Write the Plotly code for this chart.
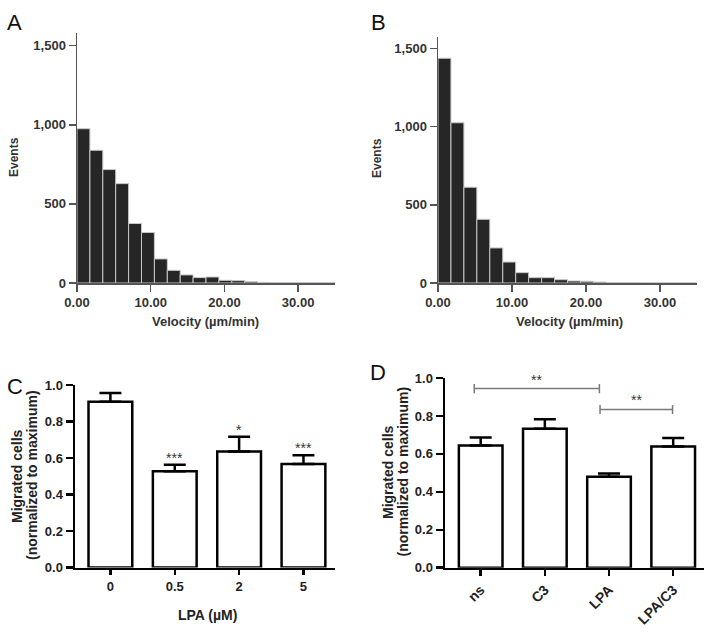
import plotly.graph_objects as go

# ---------------- data ----------------
BIN_WIDTH = 1.75
bin_starts = [i * BIN_WIDTH for i in range(20)]
events_A = [975, 839, 717, 628, 376, 319, 152, 80, 51, 34, 38, 17, 15, 8, 4, 3, 3, 2, 2, 2]
events_B = [1436, 1024, 612, 407, 224, 134, 66, 34, 34, 21, 13, 11, 6, 3, 2, 2, 1, 1, 1, 1]

lpa_labels = ["0", "0.5", "2", "5"]
lpa_mean = [0.908, 0.527, 0.635, 0.567]
lpa_err = [0.048, 0.036, 0.082, 0.048]
lpa_sig = ["", "***", "*", "***"]

treat_labels = ["ns", "C3", "LPA", "LPA/C3"]
treat_mean = [0.644, 0.733, 0.479, 0.639]
treat_err = [0.042, 0.049, 0.017, 0.045]
bracket_x0 = [-0.1, 1.86]
bracket_x1 = [1.85, 2.99]
bracket_y = [0.944, 0.834]
bracket_txt = ["**", "**"]

# ---------------- layout helpers ----------------
W, H = 715, 634
FONT = "Liberation Sans, Arial, Helvetica, sans-serif"


def fx(p):
    return p / W


def fy(p):
    return 1 - p / H


fig = go.Figure()

# Histograms A and B
for events, xa, ya in [(events_A, "x", "y"), (events_B, "x2", "y2")]:
    fig.add_trace(go.Bar(
        x=bin_starts, y=events, width=BIN_WIDTH, offset=0,
        marker=dict(color="#262626", line=dict(color="#c8c8c8", width=1)),
        xaxis=xa, yaxis=ya, showlegend=False, hoverinfo="skip"))

# Panel C bars
xs = list(range(len(lpa_labels)))
fig.add_trace(go.Bar(
    x=xs, y=lpa_mean, width=0.68,
    marker=dict(color="white", line=dict(color="black", width=2.5)),
    error_y=dict(type="data", symmetric=False, array=lpa_err,
                 arrayminus=[0] * len(lpa_err), color="black", thickness=2.5, width=11),
    xaxis="x3", yaxis="y3", showlegend=False, hoverinfo="skip"))

# Panel D bars
xd = list(range(len(treat_labels)))
fig.add_trace(go.Bar(
    x=xd, y=treat_mean, width=0.68,
    marker=dict(color="white", line=dict(color="black", width=2.5)),
    error_y=dict(type="data", symmetric=False, array=treat_err,
                 arrayminus=[0] * len(treat_err), color="black", thickness=2.5, width=11),
    xaxis="x4", yaxis="y4", showlegend=False, hoverinfo="skip"))

# Brackets in D
cap = 0.024
for x0, x1, yb in zip(bracket_x0, bracket_x1, bracket_y):
    fig.add_trace(go.Scatter(
        x=[x0, x0, None, x0, x1, None, x1, x1],
        y=[yb - cap, yb + cap, None, yb, yb, None, yb - cap, yb + cap],
        mode="lines", line=dict(color="#7a7a7a", width=1.5),
        xaxis="x4", yaxis="y4", showlegend=False, hoverinfo="skip"))

hist_axis = dict(showline=True, linecolor="#555", linewidth=1.5, ticks="outside",
                 ticklen=7, tickwidth=1.5, tickcolor="#555", showgrid=False, zeroline=False,
                 automargin=False,
                 tickfont=dict(family=FONT, size=13, color="#333", weight="bold"))
bar_axis = dict(showline=True, linecolor="black", linewidth=2.5, ticks="outside",
                ticklen=7, tickwidth=2.5, tickcolor="black", showgrid=False, zeroline=False,
                automargin=False,
                tickfont=dict(family=FONT, size=13, color="#222", weight="bold"))

fig.update_layout(
    template="none",
    width=W, height=H, margin=dict(l=0, r=0, t=0, b=0, pad=0), autosize=False,
    showlegend=False,
    paper_bgcolor="white", plot_bgcolor="white", barmode="overlay",
    xaxis=dict(hist_axis, domain=[fx(77), fx(335)], range=[0, 35], tickvals=[0, 10, 20, 30],
               tickformat=".2f", anchor="y"),
    yaxis=dict(hist_axis, domain=[fy(283), fy(33)], range=[0, 1580], tickvals=[0, 500, 1000, 1500],
               tickformat=",", anchor="x"),
    xaxis2=dict(hist_axis, domain=[fx(438), fx(697)], range=[0, 35], tickvals=[0, 10, 20, 30],
                tickformat=".2f", anchor="y2"),
    yaxis2=dict(hist_axis, domain=[fy(283), fy(37)], range=[0, 1572], tickvals=[0, 500, 1000, 1500],
                tickformat=",", anchor="x2"),
    xaxis3=dict(bar_axis, domain=[fx(75), fx(335)], range=[-0.55, 3.49], tickvals=xs,
                ticktext=lpa_labels, ticklen=5, anchor="y3"),
    yaxis3=dict(bar_axis, domain=[fy(567.5), fy(385)], range=[0, 1.0], dtick=0.2,
                tickformat=".1f", anchor="x3"),
    xaxis4=dict(bar_axis, domain=[fx(445), fx(704)], range=[-0.556, 3.48], tickvals=xd,
                ticktext=treat_labels, tickangle=-45, ticklen=6, anchor="y4",
                tickfont=dict(family=FONT, size=14, color="#222", weight="bold")),
    yaxis4=dict(bar_axis, domain=[fy(567.7), fy(378)], range=[0, 1.0], dtick=0.2,
                tickformat=".1f", anchor="x4"),
)

ann = []


def text_ann(txt, x, y, size, bold=True, angle=0, color="#222"):
    ann.append(dict(text=txt, x=fx(x), y=fy(y), xref="paper", yref="paper",
                    showarrow=False, textangle=angle, xanchor="center", yanchor="middle",
                    font=dict(family=FONT, size=size, color=color,
                              weight="bold" if bold else "normal")))


# panel letters
text_ann("A", 14, 22, 22, bold=False, color="#111")
text_ann("B", 378, 22, 22, bold=False, color="#111")
text_ann("C", 15, 386, 22, bold=False, color="#111")
text_ann("D", 378, 372, 22, bold=False, color="#111")

# axis titles
text_ann("Events", 14, 157, 12, angle=-90, color="#333")
text_ann("Events", 377, 158, 12, angle=-90, color="#333")
text_ann("Velocity (µm/min)", 205, 322, 13, color="#333")
text_ann("Velocity (µm/min)", 569, 322, 13, color="#333")

text_ann("Migrated cells", 17, 476, 14, angle=-90)
text_ann("(normalized to maximum)", 32, 475, 14, angle=-90)
text_ann("LPA (µM)", 207, 615, 14)

text_ann("Migrated cells", 388, 472, 14, angle=-90)
text_ann("(normalized to maximum)", 402.5, 472, 14, angle=-90)

# significance stars in C
for i, s in enumerate(lpa_sig):
    if s:
        ann.append(dict(text=s, x=i, y=lpa_mean[i] + lpa_err[i], xref="x3", yref="y3",
                        showarrow=False, yanchor="bottom", yshift=-3,
                        font=dict(family=FONT, size=14, color="#333")))

# bracket labels in D
for x0, x1, yb, t in zip(bracket_x0, bracket_x1, bracket_y, bracket_txt):
    ann.append(dict(text=t, x=(x0 + x1) / 2, y=yb, xref="x4", yref="y4",
                    showarrow=False, yanchor="bottom", yshift=-1,
                    font=dict(family=FONT, size=14, color="#333")))

fig.update_layout(annotations=ann)

fig.write_html("out.html", config={"displayModeBar": False, "staticPlot": True},
               post_script="document.body.style.margin='0';document.body.style.overflow='hidden';")
